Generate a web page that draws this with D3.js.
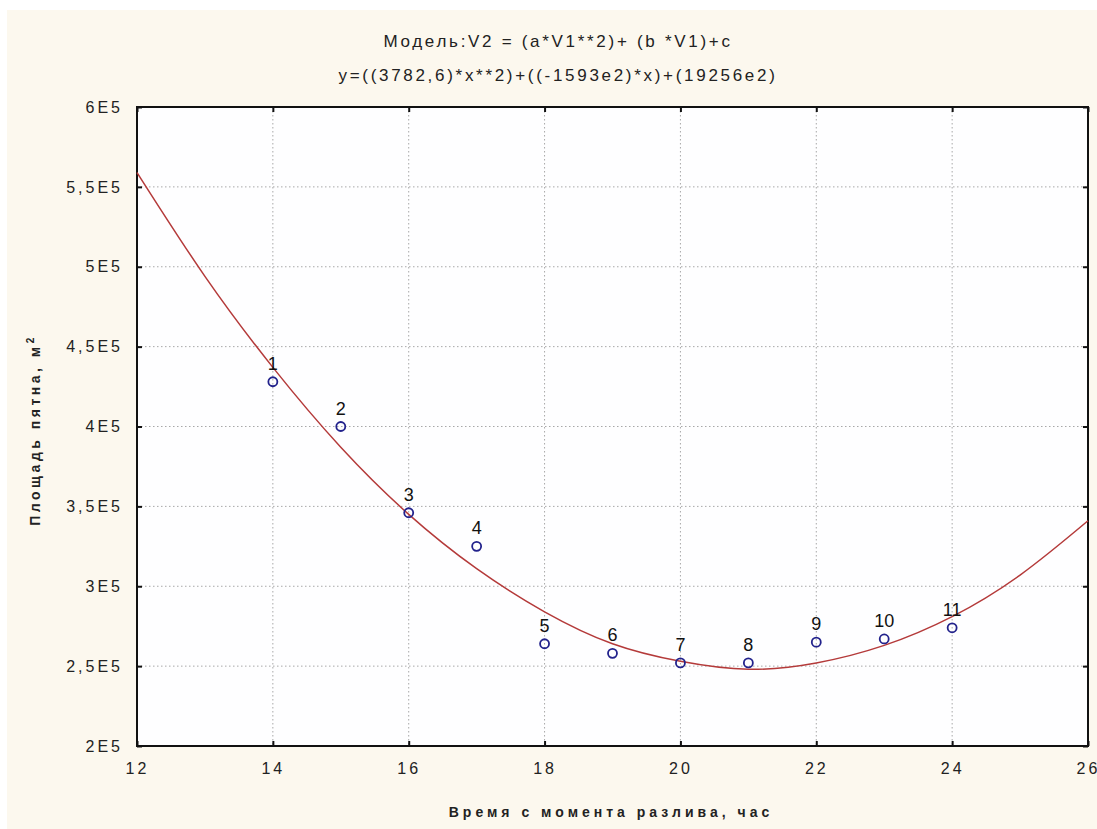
<!DOCTYPE html>
<html>
<head>
<meta charset="utf-8">
<script src="https://cdn.jsdelivr.net/npm/d3@7"></script>
<style>
  body { margin: 0; background: #ffffff; }
  svg { display: block; font-family: "Liberation Sans", Arial, sans-serif; }
  .grid line { stroke: #a8a8a8; stroke-dasharray: 1.5,2.5; }
  .axis path { display: none; }
  .axis line { stroke: #111; stroke-width: 2; }
  .axis text { font-size: 16px; fill: #222; letter-spacing: 3px; }
</style>
</head>
<body>
<div id="chart"></div>
<script>
// observed points, hours since spill vs slick area
var hours = [14, 15, 16, 17, 18, 19, 20, 21, 22, 23, 24];
var area  = [428000, 400000, 346000, 325000, 264000, 258000, 252000, 252000, 265000, 267000, 274000];
var pointLabels = ["1", "2", "3", "4", "5", "6", "7", "8", "9", "10", "11"];

// fitted curve
var fitX = [12, 13, 14, 15, 16, 17, 18, 19, 20, 21, 22, 23, 24, 25, 26];
var fitY = [559000, 494000, 437000, 387000, 345000, 311000, 284000, 264000, 253000, 248000, 252000, 263000, 281000, 307000, 341000];

var xTicks = [12, 14, 16, 18, 20, 22, 24, 26];
var yTicks = [200000, 250000, 300000, 350000, 400000, 450000, 500000, 550000, 600000];
var yTickLabels = ["2E5", "2,5E5", "3E5", "3,5E5", "4E5", "4,5E5", "5E5", "5,5E5", "6E5"];

var titleLines = ["Модель:V2 = (a*V1**2)+ (b *V1)+c", "y=((3782,6)*x**2)+((-1593e2)*x)+(19256e2)"];
var xTitle = "Время с момента разлива, час";
var yTitle = "Площадь пятна, м";

var W = 1097, H = 829;
var margin = {top: 107, right: 9, bottom: 83, left: 137},
    width = W - margin.left - margin.right,
    height = H - margin.top - margin.bottom;

var svg = d3.select("#chart").append("svg")
    .attr("width", W)
    .attr("height", H);

// cream page background
svg.append("rect")
    .attr("x", 7).attr("y", 10)
    .attr("width", W - 7).attr("height", H - 10)
    .attr("fill", "#fcf8ee");

svg.append("g").selectAll("text")
    .data(titleLines)
    .join("text")
    .attr("x", 558)
    .attr("y", function(d, i) { return 47 + i * 34; })
    .attr("text-anchor", "middle")
    .attr("font-size", "17px")
    .attr("letter-spacing", "2.7px")
    .attr("fill", "#222")
    .text(function(d) { return d; });

var x = d3.scaleLinear().domain([12, 26]).range([0, width]);
var y = d3.scaleLinear().domain([200000, 600000]).range([height, 0]);

var g = svg.append("g")
    .attr("transform", "translate(" + margin.left + "," + margin.top + ")");

g.append("rect")
    .attr("width", width).attr("height", height)
    .attr("fill", "#fefeff");

// grid
g.append("g").attr("class", "grid")
    .selectAll("line")
    .data(xTicks.slice(1, -1))
    .join("line")
    .attr("x1", function(d) { return x(d); })
    .attr("x2", function(d) { return x(d); })
    .attr("y1", 0).attr("y2", height);

g.append("g").attr("class", "grid")
    .selectAll("line")
    .data(yTicks.slice(1, -1))
    .join("line")
    .attr("y1", function(d) { return y(d); })
    .attr("y2", function(d) { return y(d); })
    .attr("x1", 0).attr("x2", width);

// axes, ticks pointing inward
function yFmt(d) { return yTickLabels[yTicks.indexOf(d)]; }

g.append("g").attr("class", "axis")
    .call(d3.axisLeft(y).tickValues(yTicks).tickFormat(yFmt).tickSize(-5).tickPadding(14));

g.append("g").attr("class", "axis")
    .attr("transform", "translate(" + width + ",0)")
    .call(d3.axisRight(y).tickValues(yTicks).tickFormat("").tickSize(-5));

g.append("g").attr("class", "axis")
    .attr("transform", "translate(0," + height + ")")
    .call(d3.axisBottom(x).tickValues(xTicks).tickFormat(d3.format("d")).tickSize(-5).tickPadding(17));

g.append("g").attr("class", "axis")
    .call(d3.axisTop(x).tickValues(xTicks).tickFormat("").tickSize(-5));

// frame
g.append("rect")
    .attr("width", width).attr("height", height)
    .attr("fill", "none")
    .attr("stroke", "#111")
    .attr("stroke-width", 2);

// fitted curve
var fit = fitX.map(function(v, i) { return {x: v, y: fitY[i]}; });
var line = d3.line()
    .x(function(d) { return x(d.x); })
    .y(function(d) { return y(d.y); })
    .curve(d3.curveNatural);

g.append("path")
    .datum(fit)
    .attr("d", line)
    .attr("fill", "none")
    .attr("stroke", "#b43a3a")
    .attr("stroke-width", 1.5);

// points and their numbers
var pts = hours.map(function(v, i) { return {x: v, y: area[i], label: pointLabels[i]}; });

g.append("g").selectAll("circle")
    .data(pts)
    .join("circle")
    .attr("cx", function(d) { return x(d.x); })
    .attr("cy", function(d) { return y(d.y); })
    .attr("r", 4.5)
    .attr("fill", "none")
    .attr("stroke", "#22228c")
    .attr("stroke-width", 1.8);

g.append("g").selectAll("text")
    .data(pts)
    .join("text")
    .attr("x", function(d) { return x(d.x); })
    .attr("y", function(d) { return y(d.y) - 12; })
    .attr("text-anchor", "middle")
    .attr("font-size", "18px")
    .attr("fill", "#111")
    .text(function(d) { return d.label; });

// axis titles
svg.append("text")
    .attr("x", 611).attr("y", 817)
    .attr("text-anchor", "middle")
    .attr("font-size", "14px")
    .attr("font-weight", "bold")
    .attr("letter-spacing", "4px")
    .attr("fill", "#222")
    .text(xTitle);

var yt = svg.append("text")
    .attr("transform", "translate(40,430) rotate(-90)")
    .attr("text-anchor", "middle")
    .attr("font-size", "14px")
    .attr("font-weight", "bold")
    .attr("letter-spacing", "3.5px")
    .attr("fill", "#222");
yt.append("tspan").text(yTitle);
yt.append("tspan").attr("dy", "-6").attr("font-size", "10px").text("2");
</script>
</body>
</html>
